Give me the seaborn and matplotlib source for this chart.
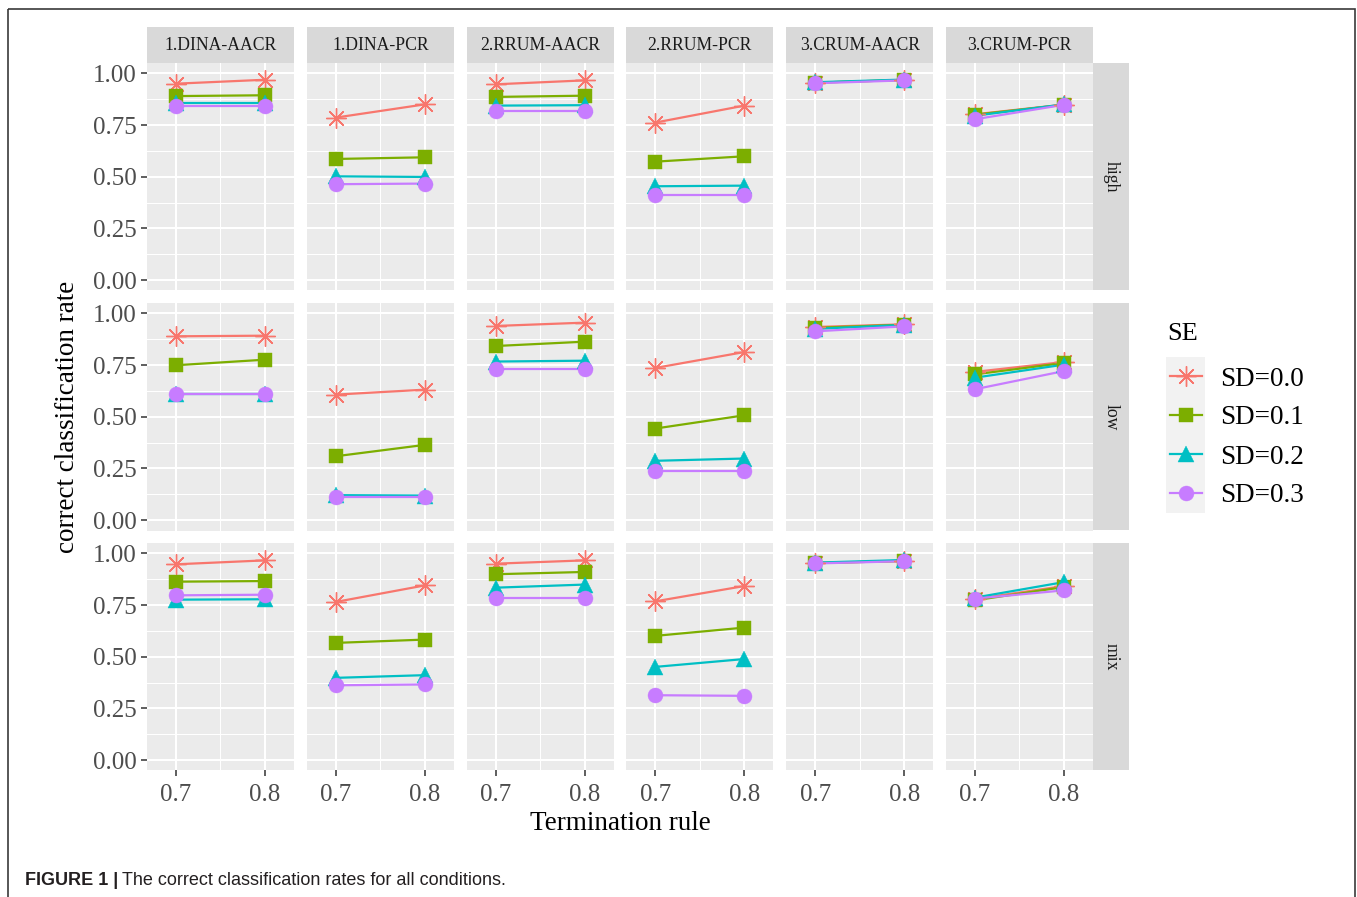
import matplotlib
matplotlib.use("Agg")
import matplotlib.pyplot as plt
from matplotlib.lines import Line2D
from matplotlib.patches import Rectangle
from matplotlib.markers import MarkerStyle
import seaborn as sns
import pandas as pd

# ---------------- data ----------------
panels = ["1.DINA-AACR", "1.DINA-PCR", "2.RRUM-AACR", "2.RRUM-PCR", "3.CRUM-AACR", "3.CRUM-PCR"]
dispersions = ["high", "low", "mix"]
rules = [0.7, 0.8]
se_levels = ["SD=0.0", "SD=0.1", "SD=0.2", "SD=0.3"]

# each list: 6 panels x 2 termination rules (0.7, 0.8)
high_sd00 = [0.950, 0.969, 0.786, 0.850, 0.947, 0.966, 0.762, 0.844, 0.955, 0.968, 0.802, 0.849]
high_sd01 = [0.890, 0.894, 0.586, 0.594, 0.886, 0.892, 0.573, 0.599, 0.955, 0.968, 0.800, 0.848]
high_sd02 = [0.857, 0.857, 0.502, 0.499, 0.844, 0.846, 0.454, 0.457, 0.957, 0.970, 0.795, 0.850]
high_sd03 = [0.841, 0.841, 0.464, 0.467, 0.816, 0.816, 0.411, 0.411, 0.952, 0.966, 0.778, 0.848]

low_sd00 = [0.889, 0.892, 0.607, 0.631, 0.939, 0.955, 0.736, 0.813, 0.934, 0.947, 0.717, 0.765]
low_sd01 = [0.749, 0.776, 0.309, 0.364, 0.842, 0.863, 0.443, 0.507, 0.930, 0.945, 0.705, 0.760]
low_sd02 = [0.608, 0.608, 0.121, 0.119, 0.767, 0.771, 0.287, 0.298, 0.925, 0.944, 0.689, 0.752]
low_sd03 = [0.612, 0.612, 0.113, 0.113, 0.733, 0.733, 0.237, 0.237, 0.913, 0.937, 0.633, 0.721]

mix_sd00 = [0.947, 0.966, 0.765, 0.845, 0.950, 0.966, 0.768, 0.842, 0.953, 0.963, 0.779, 0.842]
mix_sd01 = [0.863, 0.866, 0.567, 0.583, 0.899, 0.910, 0.601, 0.641, 0.953, 0.963, 0.773, 0.837]
mix_sd02 = [0.776, 0.778, 0.398, 0.411, 0.834, 0.849, 0.451, 0.489, 0.955, 0.968, 0.786, 0.861]
mix_sd03 = [0.797, 0.800, 0.362, 0.366, 0.786, 0.786, 0.314, 0.311, 0.951, 0.962, 0.781, 0.821]

series = {
    ("high", "SD=0.0"): high_sd00, ("high", "SD=0.1"): high_sd01,
    ("high", "SD=0.2"): high_sd02, ("high", "SD=0.3"): high_sd03,
    ("low", "SD=0.0"): low_sd00, ("low", "SD=0.1"): low_sd01,
    ("low", "SD=0.2"): low_sd02, ("low", "SD=0.3"): low_sd03,
    ("mix", "SD=0.0"): mix_sd00, ("mix", "SD=0.1"): mix_sd01,
    ("mix", "SD=0.2"): mix_sd02, ("mix", "SD=0.3"): mix_sd03,
}

rows = []
for (disp, se), vals in series.items():
    for pi, pname in enumerate(panels):
        for ri, rule in enumerate(rules):
            rows.append({"disp": disp, "SE": se, "panel": pname,
                         "rule": rule, "rate": vals[2 * pi + ri]})
df = pd.DataFrame(rows)

# ---------------- style ----------------
plt.rcParams["font.family"] = ["Liberation Serif", "DejaVu Serif"]
colors = dict(zip(se_levels, ["#F8766D", "#7CAE00", "#00BFC4", "#C77CFF"]))
markers = {"SD=0.0": MarkerStyle((8, 2, 0)), "SD=0.1": "s", "SD=0.2": "^", "SD=0.3": "o"}
msizes = {"SD=0.0": 14.5, "SD=0.1": 10.0, "SD=0.2": 11.5, "SD=0.3": 10.8}

W, H = 1357, 897
fig = plt.figure(figsize=(W / 100, H / 100), dpi=100)
fig.patch.set_facecolor("white")

ov = fig.add_axes([0, 0, 1, 1])
ov.set_xlim(0, W)
ov.set_ylim(H, 0)
ov.axis("off")

col_left0, col_pitch, pw = 147.0, 159.8, 147.0
row_top0, row_pitch, ph = 63.0, 240.0, 227.5

for r, disp in enumerate(dispersions):
    for c, pname in enumerate(panels):
        left = col_left0 + col_pitch * c
        top = row_top0 + row_pitch * r
        ax = fig.add_axes([left / W, 1 - (top + ph) / H, pw / W, ph / H])
        ax.set_facecolor("#EBEBEB")
        sub = df[(df.disp == disp) & (df.panel == pname)]
        for se in se_levels:
            s = sub[sub.SE == se]
            sns.lineplot(data=s, x="rule", y="rate", color=colors[se],
                         linewidth=1.6, ax=ax, legend=False, errorbar=None, zorder=3)
        for se in se_levels:
            s = sub[sub.SE == se]
            filled = se != "SD=0.0"
            sns.lineplot(data=s, x="rule", y="rate", color=colors[se], linewidth=0,
                         marker=markers[se], markersize=msizes[se],
                         markeredgecolor=colors[se], markerfacecolor=colors[se],
                         markeredgewidth=1.0 if not filled else 0.3,
                         ax=ax, legend=False, errorbar=None, zorder=4)
        ax.set_xlim(0.6675, 0.8325)
        ax.set_ylim(-0.05, 1.05)
        ax.set_xticks([0.7, 0.8])
        ax.set_xticks([0.75], minor=True)
        ax.set_yticks([0, 0.25, 0.5, 0.75, 1.0])
        ax.set_yticks([0.125, 0.375, 0.625, 0.875], minor=True)
        ax.set_xticklabels(["0.7", "0.8"])
        ax.set_yticklabels(["0.00", "0.25", "0.50", "0.75", "1.00"])
        ax.grid(which="major", color="white", linewidth=1.5)
        ax.grid(which="minor", color="white", linewidth=0.75)
        ax.set_axisbelow(True)
        for sp in ax.spines.values():
            sp.set_visible(False)
        ax.set_xlabel("")
        ax.set_ylabel("")
        ax.tick_params(which="minor", length=0)
        ax.tick_params(which="major", length=4, width=1.1, color="#333333",
                       labelsize=18, labelcolor="#4D4D4D", pad=3.5)
        ax.tick_params(axis="x", which="major", pad=6)
        if c != 0:
            ax.tick_params(axis="y", which="major", length=0, labelleft=False)
        if r != len(dispersions) - 1:
            ax.tick_params(axis="x", which="major", length=0, labelbottom=False)

        if r == 0:
            ov.add_patch(Rectangle((left, 27), pw, 36, facecolor="#D9D9D9", edgecolor="none"))
            ov.text(left + pw / 2, 45, pname, ha="center", va="center",
                    fontsize=12.7, color="#1A1A1A")
        if c == len(panels) - 1:
            ov.add_patch(Rectangle((left + pw, top), 36, ph, facecolor="#D9D9D9", edgecolor="none"))
            ov.text(left + pw + 18, top + ph / 2, disp, ha="center", va="center",
                    rotation=270, fontsize=12.7, color="#1A1A1A")

# axis titles
ov.text(620, 830, "Termination rule", ha="center", va="baseline", fontsize=19.5, color="black")
ov.text(68, 416.5, "correct classification rate", ha="center", va="center",
        rotation=90, fontsize=19.5, color="black")

# legend
ov.text(1167, 340.5, "SE", ha="left", va="baseline", fontsize=19, color="black")
ov.add_patch(Rectangle((1166, 357), 39, 156, facecolor="#F2F2F2", edgecolor="none"))
for i, se in enumerate(se_levels):
    yc = 376 + 39 * i
    ov.add_line(Line2D([1170, 1202], [yc, yc], color=colors[se], linewidth=1.6))
    filled = se != "SD=0.0"
    ov.add_line(Line2D([1186], [yc], linestyle="none", marker=markers[se],
                       markersize=msizes[se], color=colors[se],
                       markeredgecolor=colors[se],
                       markeredgewidth=1.0 if not filled else 0.3))
    ov.text(1220, yc + 9.5, se, ha="left", va="baseline", fontsize=19.5, color="black")

# caption
cap_family = ["Liberation Sans Narrow", "Liberation Sans", "DejaVu Sans"]
t1 = ov.text(25, 885, "FIGURE 1 |", ha="left", va="baseline", fontsize=13,
             fontweight="bold", family=cap_family, color="#231F20")
ov.annotate("The correct classification rates for all conditions.", xy=(1, 0),
            xycoords=t1, xytext=(3, 0), textcoords="offset points",
            ha="left", va="bottom", fontsize=13, family=cap_family, color="#231F20")

# figure frame
ov.add_patch(Rectangle((8, 9), 1347, 960, fill=False, edgecolor="#3A3A3A",
                       linewidth=1.2, clip_on=False))

fig.savefig("out.png", dpi=100)
